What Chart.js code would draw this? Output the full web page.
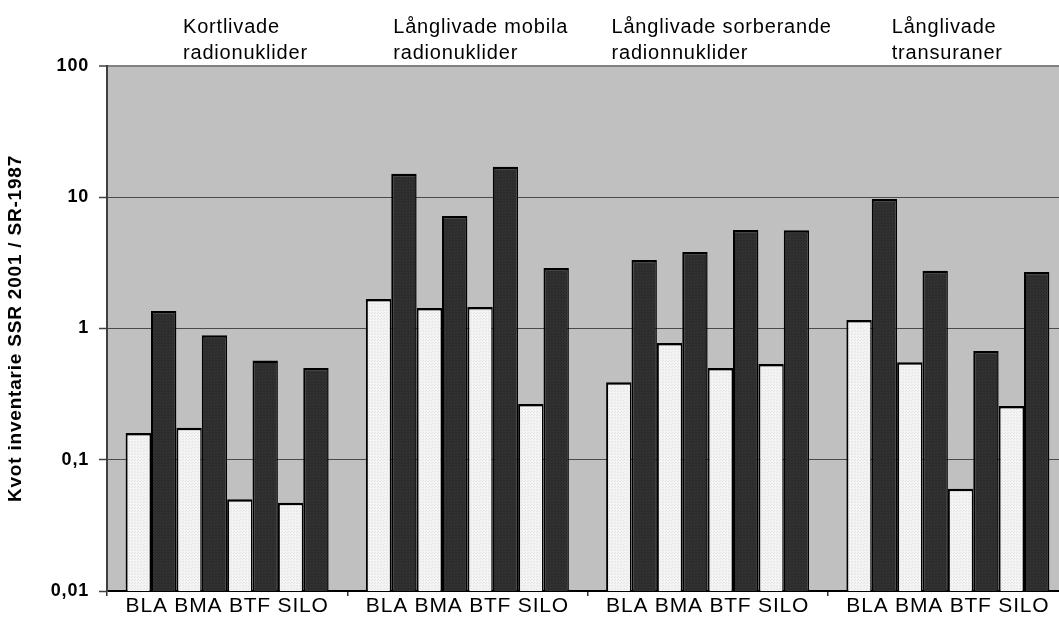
<!DOCTYPE html>
<html lang="sv">
<head>
  <meta charset="UTF-8" />
  <title>Kvot inventarie SSR 2001 / SR-1987</title>
  <script src="https://cdn.jsdelivr.net/npm/chart.js"></script>
  <style>
    html, body { margin: 0; padding: 0; background: #fff; overflow: hidden; }
    #wrap { width: 1070px; height: 617px; }
  </style>
</head>
<body>
<div id="wrap"><canvas id="chart" width="1070" height="617"></canvas></div>
<script>
  // Kategorier (grupper) och anläggningar
  const groupTitles = [
    ['Kortlivade', 'radionuklider'],
    ['Långlivade mobila', 'radionuklider'],
    ['Långlivade sorberande', 'radionnuklider'],
    ['Långlivade', 'transuraner']
  ];
  const facilities = ['BLA', 'BMA', 'BTF', 'SILO'];
  const yTicks = [0.01, 0.1, 1, 10, 100];

  // kvot per grupp (ljus / mörk stapel)
  const blaLight  = [0.16, 1.68, 0.39, 1.16];
  const blaDark   = [1.36, 15.1, 3.33, 9.7];
  const bmaLight  = [0.175, 1.43, 0.776, 0.553];
  const bmaDark   = [0.89, 7.2, 3.83, 2.76];
  const btfLight  = [0.05, 1.46, 0.50, 0.06];
  const btfDark   = [0.57, 17.1, 5.63, 0.674];
  const siloLight = [0.047, 0.266, 0.537, 0.257];
  const siloDark  = [0.50, 2.89, 5.6, 2.69];

  const FONT = '"Liberation Sans", Arial, sans-serif';

  function makePattern(bg, dot) {
    const c = document.createElement('canvas');
    c.width = 3; c.height = 3;
    const g = c.getContext('2d');
    g.fillStyle = bg; g.fillRect(0, 0, 3, 3);
    g.fillStyle = dot; g.fillRect(0, 0, 1, 1); g.fillRect(2, 1, 1, 1);
    return g.createPattern(c, 'repeat');
  }
  const lightFill = makePattern('#f4f4f4', '#e2e2e2');
  const darkFill = makePattern('#313131', '#262626');

  const series = [blaLight, blaDark, bmaLight, bmaDark, btfLight, btfDark, siloLight, siloDark];
  const datasets = series.map((data, i) => ({
    label: facilities[Math.floor(i / 2)] + (i % 2 ? ' mörk' : ' ljus'),
    data: data,
    backgroundColor: i % 2 ? darkFill : lightFill,
    borderColor: '#000',
    borderWidth: { top: 2.5, left: 2, right: 1.5, bottom: 0 },
    borderSkipped: 'start',
    barPercentage: 1,
    categoryPercentage: 0.845
  }));

  // lite bokstavsavstånd som i originalet
  const spacing = {
    id: 'spacing',
    beforeUpdate(chart) { chart.ctx.letterSpacing = '0.8px'; },
    beforeDraw(chart) { chart.ctx.letterSpacing = '0.8px'; }
  };

  const plotBg = {
    id: 'plotBg',
    beforeDraw(chart) {
      const { ctx, chartArea: a } = chart;
      ctx.save();
      ctx.fillStyle = '#c0c0c0';
      ctx.fillRect(a.left, a.top, a.right - a.left, a.bottom - a.top);
      ctx.restore();
    }
  };

  const groupLabels = {
    id: 'groupLabels',
    afterDraw(chart, args, opts) {
      const { ctx } = chart;
      const x = chart.scales.x;
      const w = (chart.chartArea.right - chart.chartArea.left) / groupTitles.length;
      ctx.save();
      ctx.font = '20px ' + FONT;
      ctx.fillStyle = '#000';
      ctx.textAlign = 'left';
      ctx.textBaseline = 'alphabetic';
      groupTitles.forEach((lines, i) => {
        const left = x.getPixelForValue(i) - w / 2 + opts.offsets[i];
        lines.forEach((t, j) => ctx.fillText(t, left, opts.firstBaseline + j * opts.lineGap));
      });
      ctx.restore();
    }
  };

  new Chart(document.getElementById('chart'), {
    type: 'bar',
    data: { labels: groupTitles.map(() => facilities.join(' ')), datasets },
    options: {
      responsive: false,
      animation: false,
      layout: { padding: { top: 66, right: 2, left: 0, bottom: 0 } },
      plugins: {
        legend: { display: false },
        tooltip: { enabled: false },
        groupLabels: { offsets: [76, 46, 24, 64], firstBaseline: 32.5, lineGap: 26 }
      },
      scales: {
        x: {
          grid: { offset: true, drawOnChartArea: false, drawTicks: true, tickLength: 5, color: '#333', lineWidth: 1.5 },
          border: { display: true, color: '#000', width: 2 },
          ticks: { color: '#000', padding: 0, maxRotation: 0, font: { family: FONT, size: 21, lineHeight: 1 } },
          afterFit(s) { s.height = 26; }
        },
        y: {
          type: 'logarithmic',
          min: 0.01,
          max: 100,
          afterBuildTicks(s) { s.ticks = yTicks.map(v => ({ value: v })); },
          afterFit(s) { s.width = 107; },
          grid: {
            color: c => (c.tick && c.tick.value === 100) ? '#808080' : '#4a4a4a',
            lineWidth: c => (c.tick && c.tick.value === 100) ? 2 : 1,
            tickColor: '#404040',
            tickWidth: 1.5,
            tickLength: 8
          },
          border: { display: true, color: '#404040', width: 2 },
          ticks: {
            color: '#000',
            padding: 10,
            font: { family: FONT, size: 18, weight: 'bold' },
            callback: v => String(v).replace('.', ',')
          },
          title: {
            display: true,
            text: 'Kvot inventarie SSR 2001 / SR-1987',
            color: '#000',
            padding: { top: 4, bottom: 0 },
            font: { family: FONT, size: 19, weight: 'bold' }
          }
        }
      }
    },
    plugins: [spacing, plotBg, groupLabels]
  });
</script>
</body>
</html>
